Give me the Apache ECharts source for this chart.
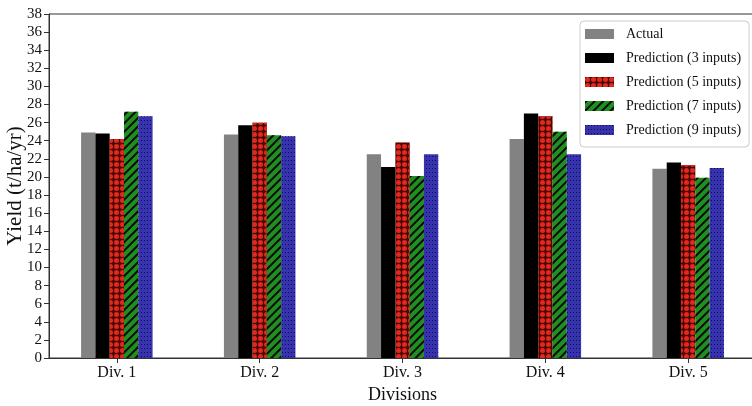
<!DOCTYPE html>
<html>
<head>
<meta charset="utf-8">
<script src="https://cdn.jsdelivr.net/npm/echarts@6/dist/echarts.min.js"></script>
<style>html,body{margin:0;padding:0;background:#fff}#c{width:752px;height:406px}</style>
</head>
<body>
<div id="c"></div>
<script>
const categories = ['Div. 1', 'Div. 2', 'Div. 3', 'Div. 4', 'Div. 5'];
const seriesNames = ['Actual', 'Prediction (3 inputs)', 'Prediction (5 inputs)', 'Prediction (7 inputs)', 'Prediction (9 inputs)'];
const actual = [24.9, 24.7, 22.5, 24.2, 20.9];
const pred3 = [24.8, 25.7, 21.1, 27.0, 21.6];
const pred5 = [24.2, 26.0, 23.8, 26.7, 21.3];
const pred7 = [27.2, 24.6, 20.1, 25.0, 19.9];
const pred9 = [26.7, 24.5, 22.5, 22.5, 21.0];
const yTicks = [0, 38, 2];

const serif = 'Liberation Serif, Times New Roman, serif';
const styles = [
  { color: '#828282' },
  { color: '#000000' },
  { color: '#4a0804', decal: { symbol: 'circle', symbolSize: 1, color: '#e3281e', dashArrayX: [5, 0.8], dashArrayY: [5, 0.8], rotation: 0 } },
  { color: '#1f8f1f', decal: { symbol: 'rect', symbolSize: 1, color: '#0a0a0a', dashArrayX: [1, 0], dashArrayY: [2, 3.5], rotation: -Math.PI / 4 } },
  { color: '#3732ad', decal: { symbol: 'rect', symbolSize: 1, color: 'rgba(0,0,30,0.7)', dashArrayX: [1, 2], dashArrayY: [1, 3], rotation: 0 } }
];
const allValues = [actual, pred3, pred5, pred7, pred9];

const chart = echarts.init(document.getElementById('c'), null, { renderer: 'canvas' });
chart.setOption({
  animation: false,
  backgroundColor: '#fff',
  grid: { left: 49, top: 14, width: 707, height: 344, containLabel: false, outerBoundsMode: 'none', show: true, borderColor: '#333', borderWidth: 1, backgroundColor: 'transparent' },
  legend: {
    orient: 'vertical', left: 580, top: 21,
    padding: [6, 8, 10, 5], itemGap: 10, itemWidth: 29, itemHeight: 10,
    borderColor: '#cccccc', borderWidth: 1, borderRadius: 4, backgroundColor: '#fff',
    icon: 'rect',
    textStyle: { fontFamily: serif, fontSize: 14, color: '#111', lineHeight: 14, padding: [0, 0, 0, 7] },
    data: seriesNames
  },
  xAxis: {
    type: 'value', min: -0.475, max: 4.475,
    splitLine: { show: false },
    axisLine: { show: true, onZero: false, lineStyle: { color: '#333', width: 1 } },
    axisTick: { show: true, length: 5, customValues: categories.map((c, i) => i), lineStyle: { color: '#333' } },
    axisLabel: { customValues: categories.map((c, i) => i), formatter: v => categories[Math.round(v)], fontFamily: serif, fontSize: 16, color: '#111', margin: 7 },
    name: 'Divisions', nameLocation: 'middle', nameGap: 25,
    nameTextStyle: { fontFamily: serif, fontSize: 18, color: '#111' }
  },
  yAxis: {
    type: 'value', min: yTicks[0], max: yTicks[1], interval: yTicks[2],
    splitLine: { show: false },
    axisLine: { show: true, onZero: false, lineStyle: { color: '#333', width: 1 } },
    axisTick: { show: true, length: 5, lineStyle: { color: '#333' } },
    axisLabel: { fontFamily: serif, fontSize: 15, color: '#111', margin: 7 },
    name: 'Yield (t/ha/yr)', nameLocation: 'middle', nameGap: 23, nameMoveOverlap: false,
    nameTextStyle: { fontFamily: serif, fontSize: 21, color: '#111' }
  },
  series: seriesNames.map((name, s) => ({
    name: name,
    type: 'bar',
    barWidth: 14.3,
    barGap: '0%',
    itemStyle: styles[s],
    data: allValues[s].map((v, i) => [i, v])
  }))
});
</script>
</body>
</html>
